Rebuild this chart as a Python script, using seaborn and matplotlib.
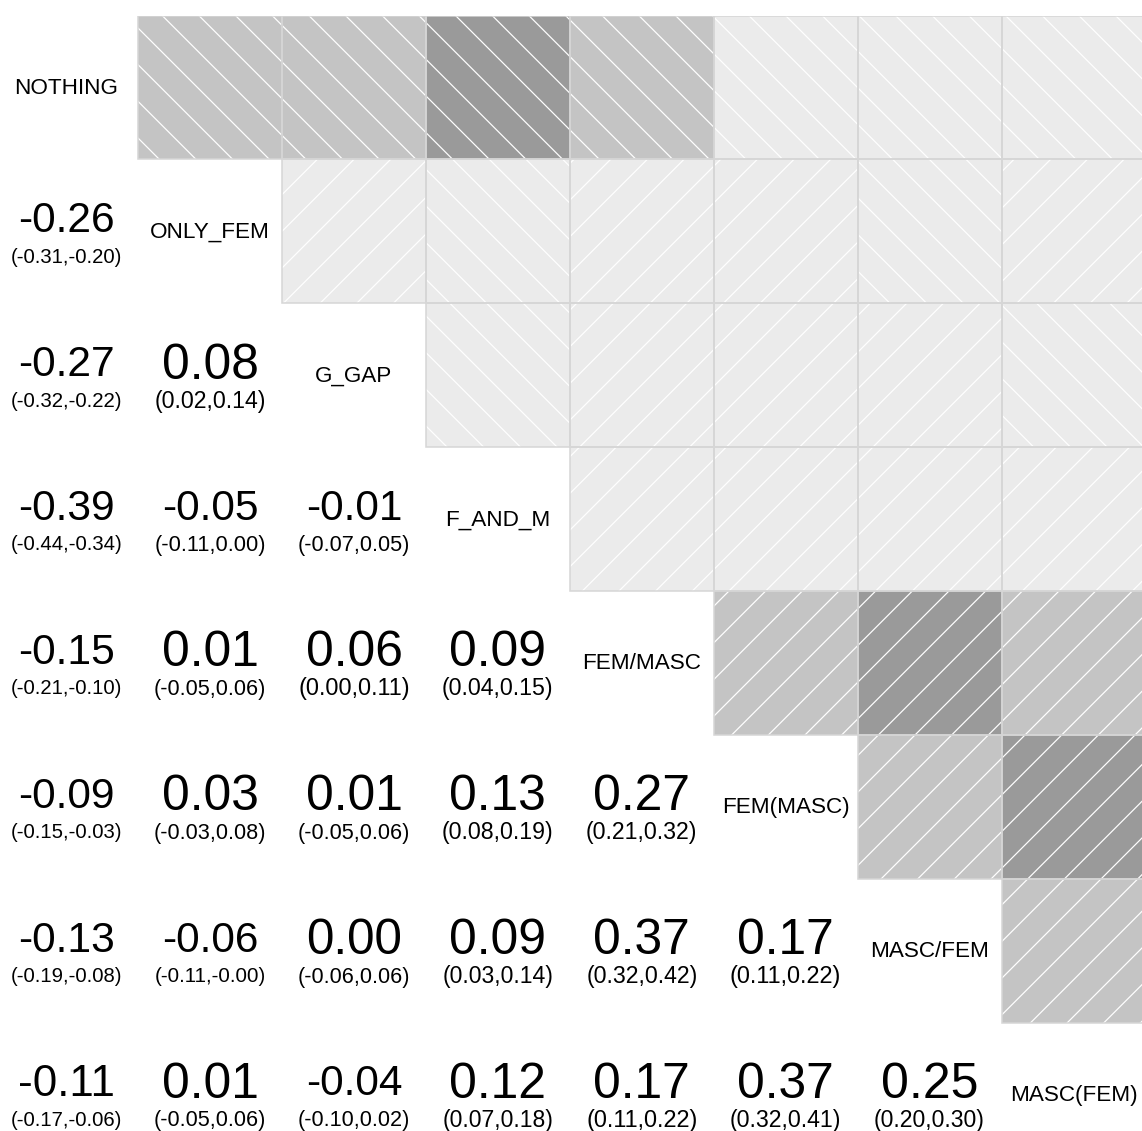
import numpy as np
import pandas as pd
import seaborn as sns
import matplotlib
matplotlib.use("Agg")
import matplotlib.pyplot as plt
from matplotlib.colors import ListedColormap, BoundaryNorm
from matplotlib.patches import Rectangle

labels = ["NOTHING", "ONLY_FEM", "G_GAP", "F_AND_M",
          "FEM/MASC", "FEM(MASC)", "MASC/FEM", "MASC(FEM)"]

# Lower triangle: row i holds the correlations with columns 0..i-1
corr = [
    [],
    [-0.26],
    [-0.27, 0.08],
    [-0.39, -0.05, -0.01],
    [-0.15, 0.01, 0.06, 0.09],
    [-0.09, 0.03, 0.01, 0.13, 0.27],
    [-0.13, -0.06, 0.00, 0.09, 0.37, 0.17],
    [-0.11, 0.01, -0.04, 0.12, 0.17, 0.37, 0.25],
]
ci_low = [
    [],
    [-0.31],
    [-0.32, 0.02],
    [-0.44, -0.11, -0.07],
    [-0.21, -0.05, 0.00, 0.04],
    [-0.15, -0.03, -0.05, 0.08, 0.21],
    [-0.19, -0.11, -0.06, 0.03, 0.32, 0.11],
    [-0.17, -0.05, -0.10, 0.07, 0.11, 0.32, 0.20],
]
ci_high = [
    [],
    [-0.20],
    [-0.22, 0.14],
    [-0.34, 0.00, 0.05],
    [-0.10, 0.06, 0.11, 0.15],
    [-0.03, 0.08, 0.06, 0.19, 0.32],
    [-0.08, -0.0, 0.06, 0.14, 0.42, 0.22],
    [-0.06, 0.06, 0.02, 0.18, 0.22, 0.41, 0.30],
]

n = len(labels)
M = np.full((n, n), np.nan)
for i in range(n):
    for j, v in enumerate(corr[i]):
        M[i, j] = v
        M[j, i] = v
mat = pd.DataFrame(M, index=labels, columns=labels)
show_upper = np.triu(np.ones((n, n), dtype=bool), k=1)

sns.set_theme(style="white")
plt.rcParams["font.family"] = ["Liberation Sans", "DejaVu Sans"]
plt.rcParams["hatch.linewidth"] = 0.4
plt.rcParams["hatch.color"] = "white"

DPI = 220
W, H = 1142, 1131
CELL = 143.9  # cell size in pixels
fig = plt.figure(figsize=(W / DPI, H / DPI), dpi=DPI)
fig.patch.set_facecolor("white")
ax = fig.add_axes([-5.8 / W, (H - 15.5 - n * CELL) / H, n * CELL / W, n * CELL / H])

# Upper triangle: grey shade by |r|
shade = ListedColormap(["#EBEBEB", "#C4C4C4", "#9A9A9A"])
norm = BoundaryNorm([0.0, 0.15, 0.30, 1.0], 3)
sns.heatmap(mat.abs(), mask=~show_upper, cmap=shade, norm=norm, cbar=False,
            linewidths=0, xticklabels=False, yticklabels=False, ax=ax)
ax.set_xlim(0, n)
ax.set_ylim(n, 0)
ax.axis("off")

# Hatching gives the sign: "/" positive, "\" negative
for i in range(n):
    for j in range(i + 1, n):
        v = M[i, j]
        ax.add_patch(Rectangle((j, i), 1, 1, facecolor="none", edgecolor="white",
                               lw=0, hatch="//" if v >= 0 else "\\\\", zorder=3))
        ax.add_patch(Rectangle((j, i), 1, 1, fill=False, edgecolor="#D6D6D6",
                               lw=0.5, zorder=4))

renderer = fig.canvas.get_renderer()


def place(x_col, row, s, offset_px, size_px=None, width_px=None):
    """Put text in a cell; either a fixed size or shrunk/grown to a width."""
    base = 10.0
    t = ax.text(x_col + 0.5, row + 0.5, s, ha="center", va="baseline",
                fontsize=base, color="black", zorder=5)
    if width_px is not None:
        w = t.get_window_extent(renderer).width
        fs = base * width_px / w
    else:
        fs = size_px * 72.0 / DPI
    t.set_fontsize(fs)
    font_px = fs * DPI / 72.0
    y = row + 0.5 + (offset_px + 0.358 * font_px) / CELL
    t.set_y(y)
    return t


for i in range(n):
    place(i, i, labels[i], -2.0, size_px=22.5)
    for j, v in enumerate(corr[i]):
        place(j, i, f"{v:.2f}", -14.5, width_px=97)
        place(j, i, f"({ci_low[i][j]:.2f},{ci_high[i][j]:.2f})", 24.0, width_px=112)

fig.savefig("out.png", dpi=DPI)
